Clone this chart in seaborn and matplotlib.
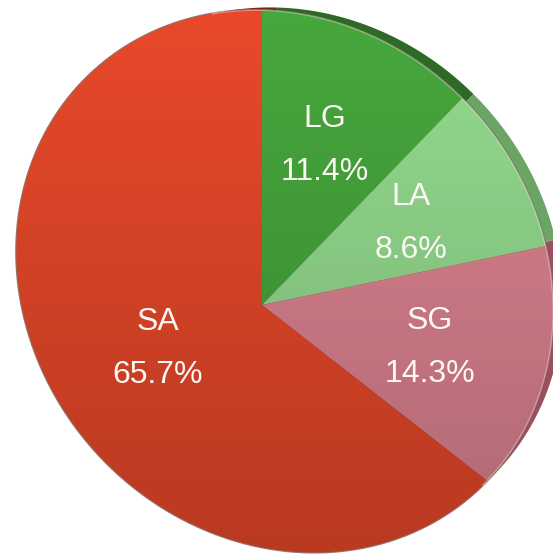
import numpy as np
import matplotlib
matplotlib.use("Agg")
import matplotlib.pyplot as plt
from matplotlib.path import Path
from matplotlib.patches import Circle, PathPatch
from matplotlib.transforms import Transform
import seaborn as sns

# Share of each group (percent)
categories = ["LG", "LA", "SG", "SA"]
shares = [11.4, 8.6, 14.3, 65.7]
top_colors = ["#47a83d", "#95dc8f", "#de8491", "#e9492a"]
rim_colors = ["#2d6a25", "#6aa566", "#9c4f5c", "#7a2416"]

sns.set_theme(style="white")
plt.rcParams["font.family"] = ["Liberation Sans", "DejaVu Sans"]

# Perspective view of the tilted disc: unit-circle coords -> figure pixels
VIEW = np.array([[243.15, -25.67, 262.0],
                 [5.62, -295.98, 305.0],
                 [-0.0847, -0.0980, 1.0]])


class TiltedDisc(Transform):
    """Projective (homography) mapping used to show the pie as a tilted disc."""
    input_dims = output_dims = 2
    is_separable = False
    has_inverse = False

    def __init__(self, matrix):
        super().__init__()
        self.matrix = np.asarray(matrix, float)

    def transform_non_affine(self, values):
        xy = np.atleast_2d(np.asarray(values, float))
        p = np.column_stack([xy, np.ones(len(xy))]) @ self.matrix.T
        return p[:, :2] / p[:, 2:3]

    def transform_path_non_affine(self, path):
        # flatten the Bezier arcs first so the projection stays smooth
        t = np.linspace(0, 1, 33)[1:]
        verts, codes = [], []
        for seg, code in path.iter_bezier(simplify=False):
            if code == Path.MOVETO:
                verts.append(seg.control_points[0])
                codes.append(Path.MOVETO)
            else:
                pts = seg(t)
                verts.extend(pts)
                codes.extend([Path.LINETO] * len(pts))
        return Path(self.transform_non_affine(np.array(verts)), codes)


W, H = 553, 558
fig = plt.figure(figsize=(W / 100, H / 100), dpi=100)
ax = fig.add_axes([0, 0, 1, 1])
tilt = TiltedDisc(VIEW) + ax.transData

# side of the disc (visible towards the upper right)
rim_dir = np.deg2rad(32)
rim_wedges, _ = ax.pie(shares, colors=rim_colors, startangle=90, counterclock=False,
                       center=(0.056 * np.cos(rim_dir), 0.056 * np.sin(rim_dir)),
                       radius=0.979, wedgeprops=dict(linewidth=0))
for w in rim_wedges:
    w.set_transform(tilt)
    w.set_zorder(1)

# thin dark outline round the disc
outline = Circle((0, 0), 1.0, fill=False, edgecolor="#4a1c10", linewidth=1.6,
                 alpha=0.6, transform=tilt, zorder=1.5)
ax.add_patch(outline)

# top face
wedges, _ = ax.pie(shares, colors=top_colors, startangle=90, counterclock=False,
                   wedgeprops=dict(linewidth=0))
for w in wedges:
    w.set_transform(tilt)
    w.set_zorder(2)

# soft top-to-bottom shading across the face
ramp = np.linspace(0, 1, 256)[:, None]
shade = np.zeros((256, 1, 4))
shade[..., 3] = 0.21 * ramp
im = ax.imshow(shade, extent=(0, W, H, 0), aspect="auto", interpolation="bilinear",
               zorder=3)
face_clip = Circle((0, 0), 1.0, transform=tilt)
im.set_clip_path(face_clip)

# light catch along the raised edge
edge = PathPatch(Path.arc(-35, 100), fill=False, edgecolor=(1, 1, 1, 0.35),
                 linewidth=1.4, transform=tilt, zorder=3.5)
ax.add_patch(edge)

# labels
bounds = 90 - 3.6 * np.concatenate([[0], np.cumsum(shares)])
mids = np.deg2rad((bounds[:-1] + bounds[1:]) / 2)
label_r = [0.62, 0.62, 0.61, 0.47]
for cat, val, a, r in zip(categories, shares, mids, label_r):
    ax.text(r * np.cos(a), r * np.sin(a), f"{cat}\n{val:.1f}%", transform=tilt,
            ha="center", va="center", color="#fcf8f3", fontsize=23,
            linespacing=2.0, zorder=5)

ax.set_aspect("auto")
ax.set_xlim(0, W)
ax.set_ylim(H, 0)
ax.axis("off")
fig.savefig("out.png", dpi=100, facecolor="white")
